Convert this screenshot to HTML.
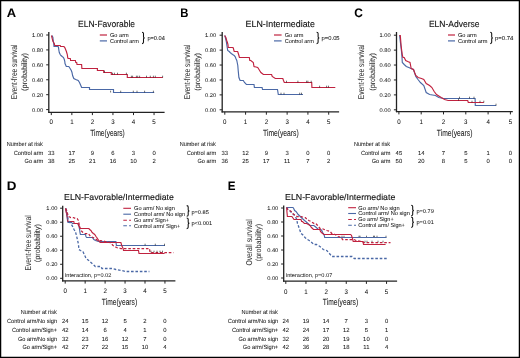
<!DOCTYPE html>
<html><head><meta charset="utf-8"><style>
html,body{margin:0;padding:0;background:#fff;overflow:hidden}
svg{display:block;will-change:transform}
text{font-family:"Liberation Sans",sans-serif;text-rendering:geometricPrecision;stroke:#111;stroke-width:0.04px}
.t{stroke-width:0.12px}
</style></head><body>
<svg width="520" height="358" viewBox="0 0 520 358">
<rect x="0" y="0" width="520" height="358" fill="#fff"/>
<text x="6.68" y="16.90" font-size="12.35" font-weight="bold" fill="#000" textLength="9.36" lengthAdjust="spacingAndGlyphs">A</text>
<text x="78.11" y="27.00" font-size="9.16" fill="#111" textLength="56.87" lengthAdjust="spacingAndGlyphs" class="t">ELN-Favorable</text>
<line x1="48.80" y1="32.00" x2="48.80" y2="112.90" stroke="#222" stroke-width="1.3"/>
<line x1="48.20" y1="112.30" x2="164.60" y2="112.30" stroke="#222" stroke-width="1.3"/>
<line x1="46.20" y1="109.60" x2="48.80" y2="109.60" stroke="#222" stroke-width="1.0"/>
<text transform="translate(43.10,111.72) scale(1.08,1)" font-size="5.30" fill="#222" text-anchor="end">0.00</text>
<line x1="46.20" y1="94.68" x2="48.80" y2="94.68" stroke="#222" stroke-width="1.0"/>
<text transform="translate(43.10,96.80) scale(1.08,1)" font-size="5.30" fill="#222" text-anchor="end">0.20</text>
<line x1="46.20" y1="79.76" x2="48.80" y2="79.76" stroke="#222" stroke-width="1.0"/>
<text transform="translate(43.10,81.88) scale(1.08,1)" font-size="5.30" fill="#222" text-anchor="end">0.40</text>
<line x1="46.20" y1="64.84" x2="48.80" y2="64.84" stroke="#222" stroke-width="1.0"/>
<text transform="translate(43.10,66.96) scale(1.08,1)" font-size="5.30" fill="#222" text-anchor="end">0.60</text>
<line x1="46.20" y1="49.92" x2="48.80" y2="49.92" stroke="#222" stroke-width="1.0"/>
<text transform="translate(43.10,52.04) scale(1.08,1)" font-size="5.30" fill="#222" text-anchor="end">0.80</text>
<line x1="46.20" y1="35.00" x2="48.80" y2="35.00" stroke="#222" stroke-width="1.0"/>
<text transform="translate(43.10,37.12) scale(1.08,1)" font-size="5.30" fill="#222" text-anchor="end">1.00</text>
<line x1="51.30" y1="112.30" x2="51.30" y2="115.10" stroke="#222" stroke-width="1.0"/>
<text transform="translate(51.30,123.80) scale(0.92,1)" font-size="6.70" fill="#111" text-anchor="middle">0</text>
<line x1="71.85" y1="112.30" x2="71.85" y2="115.10" stroke="#222" stroke-width="1.0"/>
<text transform="translate(71.85,123.80) scale(0.92,1)" font-size="6.70" fill="#111" text-anchor="middle">1</text>
<line x1="92.40" y1="112.30" x2="92.40" y2="115.10" stroke="#222" stroke-width="1.0"/>
<text transform="translate(92.40,123.80) scale(0.92,1)" font-size="6.70" fill="#111" text-anchor="middle">2</text>
<line x1="112.95" y1="112.30" x2="112.95" y2="115.10" stroke="#222" stroke-width="1.0"/>
<text transform="translate(112.95,123.80) scale(0.92,1)" font-size="6.70" fill="#111" text-anchor="middle">3</text>
<line x1="133.50" y1="112.30" x2="133.50" y2="115.10" stroke="#222" stroke-width="1.0"/>
<text transform="translate(133.50,123.80) scale(0.92,1)" font-size="6.70" fill="#111" text-anchor="middle">4</text>
<line x1="154.05" y1="112.30" x2="154.05" y2="115.10" stroke="#222" stroke-width="1.0"/>
<text transform="translate(154.05,123.80) scale(0.92,1)" font-size="6.70" fill="#111" text-anchor="middle">5</text>
<text transform="translate(16.65,99.14) rotate(-90)" x="0" y="0" font-size="8.58" fill="#3a3a3a" textLength="54.48" lengthAdjust="spacingAndGlyphs">Event-free survival</text>
<text transform="translate(26.90,90.95) rotate(-90)" x="0" y="0" font-size="7.85" fill="#3a3a3a" textLength="37.90" lengthAdjust="spacingAndGlyphs">(probability)</text>
<text x="90.25" y="135.80" font-size="9.16" fill="#111" textLength="34.55" lengthAdjust="spacingAndGlyphs">Time(years)</text>
<text x="6.74" y="145.60" font-size="5.96" fill="#111" textLength="36.15" lengthAdjust="spacingAndGlyphs">Number at risk</text>
<text x="13.81" y="154.50" font-size="5.96" fill="#111" textLength="29.46" lengthAdjust="spacingAndGlyphs">Control arm</text>
<text x="51.30" y="154.50" font-size="5.90" fill="#111" text-anchor="middle">33</text>
<text x="71.85" y="154.50" font-size="5.90" fill="#111" text-anchor="middle">17</text>
<text x="92.40" y="154.50" font-size="5.90" fill="#111" text-anchor="middle">9</text>
<text x="112.95" y="154.50" font-size="5.90" fill="#111" text-anchor="middle">6</text>
<text x="133.50" y="154.50" font-size="5.90" fill="#111" text-anchor="middle">3</text>
<text x="154.05" y="154.50" font-size="5.90" fill="#111" text-anchor="middle">0</text>
<text x="24.52" y="163.40" font-size="5.96" fill="#111" textLength="18.75" lengthAdjust="spacingAndGlyphs">Go arm</text>
<text x="51.30" y="163.40" font-size="5.90" fill="#111" text-anchor="middle">38</text>
<text x="71.85" y="163.40" font-size="5.90" fill="#111" text-anchor="middle">25</text>
<text x="92.40" y="163.40" font-size="5.90" fill="#111" text-anchor="middle">21</text>
<text x="112.95" y="163.40" font-size="5.90" fill="#111" text-anchor="middle">16</text>
<text x="133.50" y="163.40" font-size="5.90" fill="#111" text-anchor="middle">10</text>
<text x="154.05" y="163.40" font-size="5.90" fill="#111" text-anchor="middle">2</text>
<line x1="99.80" y1="35.00" x2="107.00" y2="35.00" stroke="#c0223f" stroke-width="1.2"/>
<line x1="99.80" y1="40.90" x2="107.00" y2="40.90" stroke="#4a68a6" stroke-width="1.2"/>
<text x="110.02" y="36.70" font-size="5.67" fill="#111" textLength="18.65" lengthAdjust="spacingAndGlyphs">Go arm</text>
<text x="110.02" y="42.60" font-size="5.67" fill="#111" textLength="28.74" lengthAdjust="spacingAndGlyphs">Control arm</text>
<path d="M142.00,32.20 Q143.50,32.20 143.50,33.50 L143.50,37.00 Q143.50,37.90 144.70,37.90 Q143.50,37.90 143.50,38.80 L143.50,42.30 Q143.50,43.60 142.00,43.60" fill="none" stroke="#111" stroke-width="1.05"/>
<text x="147.44" y="39.50" font-size="5.67" fill="#111" textLength="17.43" lengthAdjust="spacingAndGlyphs">p=0.04</text>
<path d="M52.00,35.50 L52.90,37.50 L53.20,40.50 L53.70,43.50 L54.00,46.50 L58.10,46.50 L58.50,47.50 L58.90,50.50 L59.30,52.50 L60.20,54.50 L61.00,55.50 L62.20,56.50 L63.50,57.50 L64.30,59.50 L64.80,61.50 L65.00,63.50 L66.30,66.50 L68.80,66.50 L70.10,68.50 L71.30,70.50 L72.00,72.50 L72.60,75.50 L73.80,78.50 L75.70,79.50 L78.20,80.50 L79.50,82.50 L80.80,85.50 L81.60,87.50 L89.50,87.50 L89.50,89.50 L113.50,89.50 L113.50,92.50 L154.20,92.50" fill="none" stroke="#4a68a6" stroke-width="1.15" stroke-linejoin="miter"/>
<path d="M51.50,35.50 L52.20,38.50 L53.00,41.50 L54.30,43.50 L54.70,45.50 L60.20,45.50 L60.60,46.50 L63.90,46.50 L64.80,47.50 L65.60,49.50 L66.40,51.50 L67.30,54.50 L67.70,57.50 L68.10,58.50 L70.30,58.50 L70.60,60.50 L75.40,60.50 L75.80,62.50 L76.70,62.50 L77.00,64.50 L81.60,64.50 L81.90,68.50 L97.40,68.50 L97.40,70.50 L103.70,70.50 L103.70,72.50 L111.30,72.50 L111.30,74.50 L127.30,74.50 L127.30,77.50 L162.80,77.50" fill="none" stroke="#c0223f" stroke-width="1.15" stroke-linejoin="miter"/>
<line x1="112.50" y1="72.70" x2="112.50" y2="74.50" stroke="#111" stroke-width="0.6"/>
<line x1="114.40" y1="72.70" x2="114.40" y2="74.50" stroke="#111" stroke-width="0.6"/>
<line x1="117.50" y1="72.70" x2="117.50" y2="74.50" stroke="#111" stroke-width="0.6"/>
<line x1="126.40" y1="72.70" x2="126.40" y2="74.50" stroke="#111" stroke-width="0.6"/>
<line x1="131.40" y1="75.70" x2="131.40" y2="77.50" stroke="#111" stroke-width="0.6"/>
<line x1="132.60" y1="75.70" x2="132.60" y2="77.50" stroke="#111" stroke-width="0.6"/>
<line x1="136.40" y1="75.70" x2="136.40" y2="77.50" stroke="#111" stroke-width="0.6"/>
<line x1="137.70" y1="75.70" x2="137.70" y2="77.50" stroke="#111" stroke-width="0.6"/>
<line x1="139.60" y1="75.70" x2="139.60" y2="77.50" stroke="#111" stroke-width="0.6"/>
<line x1="146.50" y1="75.70" x2="146.50" y2="77.50" stroke="#111" stroke-width="0.6"/>
<line x1="150.30" y1="75.70" x2="150.30" y2="77.50" stroke="#111" stroke-width="0.6"/>
<line x1="153.40" y1="75.70" x2="153.40" y2="77.50" stroke="#111" stroke-width="0.6"/>
<line x1="155.30" y1="75.70" x2="155.30" y2="77.50" stroke="#111" stroke-width="0.6"/>
<line x1="162.60" y1="75.70" x2="162.60" y2="77.50" stroke="#111" stroke-width="0.6"/>
<line x1="110.60" y1="90.70" x2="110.60" y2="92.50" stroke="#111" stroke-width="0.6"/>
<line x1="120.70" y1="90.70" x2="120.70" y2="92.50" stroke="#111" stroke-width="0.6"/>
<line x1="133.30" y1="90.70" x2="133.30" y2="92.50" stroke="#111" stroke-width="0.6"/>
<line x1="137.00" y1="90.70" x2="137.00" y2="92.50" stroke="#111" stroke-width="0.6"/>
<line x1="144.60" y1="90.70" x2="144.60" y2="92.50" stroke="#111" stroke-width="0.6"/>
<line x1="153.40" y1="90.70" x2="153.40" y2="92.50" stroke="#111" stroke-width="0.6"/>
<line x1="104.50" y1="70.70" x2="104.50" y2="72.50" stroke="#111" stroke-width="0.6"/>
<text x="180.24" y="17.10" font-size="12.35" font-weight="bold" fill="#000" textLength="8.17" lengthAdjust="spacingAndGlyphs">B</text>
<text x="245.57" y="26.90" font-size="9.16" fill="#111" textLength="69.42" lengthAdjust="spacingAndGlyphs" class="t">ELN-Intermediate</text>
<line x1="222.20" y1="32.00" x2="222.20" y2="112.50" stroke="#222" stroke-width="1.3"/>
<line x1="221.60" y1="111.90" x2="339.10" y2="111.90" stroke="#222" stroke-width="1.3"/>
<line x1="219.60" y1="109.80" x2="222.20" y2="109.80" stroke="#222" stroke-width="1.0"/>
<text transform="translate(216.10,111.92) scale(1.08,1)" font-size="5.30" fill="#222" text-anchor="end">0.00</text>
<line x1="219.60" y1="94.88" x2="222.20" y2="94.88" stroke="#222" stroke-width="1.0"/>
<text transform="translate(216.10,97.00) scale(1.08,1)" font-size="5.30" fill="#222" text-anchor="end">0.20</text>
<line x1="219.60" y1="79.96" x2="222.20" y2="79.96" stroke="#222" stroke-width="1.0"/>
<text transform="translate(216.10,82.08) scale(1.08,1)" font-size="5.30" fill="#222" text-anchor="end">0.40</text>
<line x1="219.60" y1="65.04" x2="222.20" y2="65.04" stroke="#222" stroke-width="1.0"/>
<text transform="translate(216.10,67.16) scale(1.08,1)" font-size="5.30" fill="#222" text-anchor="end">0.60</text>
<line x1="219.60" y1="50.12" x2="222.20" y2="50.12" stroke="#222" stroke-width="1.0"/>
<text transform="translate(216.10,52.24) scale(1.08,1)" font-size="5.30" fill="#222" text-anchor="end">0.80</text>
<line x1="219.60" y1="35.20" x2="222.20" y2="35.20" stroke="#222" stroke-width="1.0"/>
<text transform="translate(216.10,37.32) scale(1.08,1)" font-size="5.30" fill="#222" text-anchor="end">1.00</text>
<line x1="224.80" y1="111.90" x2="224.80" y2="114.70" stroke="#222" stroke-width="1.0"/>
<text transform="translate(224.80,123.60) scale(0.92,1)" font-size="6.70" fill="#111" text-anchor="middle">0</text>
<line x1="245.58" y1="111.90" x2="245.58" y2="114.70" stroke="#222" stroke-width="1.0"/>
<text transform="translate(245.58,123.60) scale(0.92,1)" font-size="6.70" fill="#111" text-anchor="middle">1</text>
<line x1="266.36" y1="111.90" x2="266.36" y2="114.70" stroke="#222" stroke-width="1.0"/>
<text transform="translate(266.36,123.60) scale(0.92,1)" font-size="6.70" fill="#111" text-anchor="middle">2</text>
<line x1="287.14" y1="111.90" x2="287.14" y2="114.70" stroke="#222" stroke-width="1.0"/>
<text transform="translate(287.14,123.60) scale(0.92,1)" font-size="6.70" fill="#111" text-anchor="middle">3</text>
<line x1="307.92" y1="111.90" x2="307.92" y2="114.70" stroke="#222" stroke-width="1.0"/>
<text transform="translate(307.92,123.60) scale(0.92,1)" font-size="6.70" fill="#111" text-anchor="middle">4</text>
<line x1="328.70" y1="111.90" x2="328.70" y2="114.70" stroke="#222" stroke-width="1.0"/>
<text transform="translate(328.70,123.60) scale(0.92,1)" font-size="6.70" fill="#111" text-anchor="middle">5</text>
<text transform="translate(189.80,99.24) rotate(-90)" x="0" y="0" font-size="8.58" fill="#3a3a3a" textLength="54.58" lengthAdjust="spacingAndGlyphs">Event-free survival</text>
<text transform="translate(200.00,90.75) rotate(-90)" x="0" y="0" font-size="7.85" fill="#3a3a3a" textLength="37.69" lengthAdjust="spacingAndGlyphs">(probability)</text>
<text x="263.05" y="135.80" font-size="9.16" fill="#111" textLength="35.66" lengthAdjust="spacingAndGlyphs">Time(years)</text>
<text x="179.64" y="145.60" font-size="5.96" fill="#111" textLength="36.15" lengthAdjust="spacingAndGlyphs">Number at risk</text>
<text x="186.71" y="154.50" font-size="5.96" fill="#111" textLength="29.46" lengthAdjust="spacingAndGlyphs">Control arm</text>
<text x="224.80" y="154.50" font-size="5.90" fill="#111" text-anchor="middle">33</text>
<text x="245.58" y="154.50" font-size="5.90" fill="#111" text-anchor="middle">12</text>
<text x="266.36" y="154.50" font-size="5.90" fill="#111" text-anchor="middle">9</text>
<text x="287.14" y="154.50" font-size="5.90" fill="#111" text-anchor="middle">3</text>
<text x="307.92" y="154.50" font-size="5.90" fill="#111" text-anchor="middle">0</text>
<text x="328.70" y="154.50" font-size="5.90" fill="#111" text-anchor="middle">0</text>
<text x="197.42" y="163.40" font-size="5.96" fill="#111" textLength="18.75" lengthAdjust="spacingAndGlyphs">Go arm</text>
<text x="224.80" y="163.40" font-size="5.90" fill="#111" text-anchor="middle">36</text>
<text x="245.58" y="163.40" font-size="5.90" fill="#111" text-anchor="middle">25</text>
<text x="266.36" y="163.40" font-size="5.90" fill="#111" text-anchor="middle">17</text>
<text x="287.14" y="163.40" font-size="5.90" fill="#111" text-anchor="middle">11</text>
<text x="307.92" y="163.40" font-size="5.90" fill="#111" text-anchor="middle">7</text>
<text x="328.70" y="163.40" font-size="5.90" fill="#111" text-anchor="middle">2</text>
<line x1="274.00" y1="35.00" x2="281.60" y2="35.00" stroke="#c0223f" stroke-width="1.2"/>
<line x1="274.00" y1="40.90" x2="281.60" y2="40.90" stroke="#4a68a6" stroke-width="1.2"/>
<text x="284.72" y="36.70" font-size="5.67" fill="#111" textLength="18.65" lengthAdjust="spacingAndGlyphs">Go arm</text>
<text x="284.72" y="42.60" font-size="5.67" fill="#111" textLength="29.05" lengthAdjust="spacingAndGlyphs">Control arm</text>
<path d="M316.60,32.20 Q318.10,32.20 318.10,33.50 L318.10,37.00 Q318.10,37.90 319.30,37.90 Q318.10,37.90 318.10,38.80 L318.10,42.30 Q318.10,43.60 316.60,43.60" fill="none" stroke="#111" stroke-width="1.05"/>
<text x="321.62" y="39.60" font-size="5.67" fill="#111" textLength="18.02" lengthAdjust="spacingAndGlyphs">p=0.05</text>
<path d="M224.80,35.50 L225.60,38.50 L226.30,41.50 L226.90,45.50 L227.40,48.50 L227.70,50.50 L229.20,51.50 L230.10,52.50 L231.30,53.50 L232.60,54.50 L234.20,55.50 L235.10,56.50 L235.90,58.50 L236.80,60.50 L237.20,62.50 L237.80,65.50 L238.20,70.50 L238.90,77.50 L240.10,80.50 L243.30,80.50 L244.50,82.50 L246.40,84.50 L254.00,84.50 L254.40,87.50 L262.10,87.50 L262.50,89.50 L277.50,89.50 L278.30,94.50 L303.00,94.50" fill="none" stroke="#4a68a6" stroke-width="1.15" stroke-linejoin="miter"/>
<path d="M224.60,35.50 L225.90,37.50 L226.70,40.50 L227.40,42.50 L228.00,44.50 L228.20,47.50 L233.00,47.50 L233.40,48.50 L234.20,51.50 L237.60,51.50 L238.00,52.50 L238.90,55.50 L239.40,57.50 L249.30,57.50 L249.80,60.50 L250.80,60.50 L253.30,62.50 L254.00,66.50 L257.70,67.50 L259.00,69.50 L260.90,72.50 L263.40,74.50 L271.60,74.50 L272.20,76.50 L275.30,78.50 L282.80,78.50 L283.50,80.50 L284.30,82.50 L311.70,82.50 L311.90,87.50 L335.30,87.50" fill="none" stroke="#c0223f" stroke-width="1.15" stroke-linejoin="miter"/>
<line x1="286.50" y1="80.70" x2="286.50" y2="82.50" stroke="#111" stroke-width="0.6"/>
<line x1="297.90" y1="80.70" x2="297.90" y2="82.50" stroke="#111" stroke-width="0.6"/>
<line x1="306.60" y1="80.70" x2="306.60" y2="82.50" stroke="#111" stroke-width="0.6"/>
<line x1="307.90" y1="80.70" x2="307.90" y2="82.50" stroke="#111" stroke-width="0.6"/>
<line x1="311.20" y1="80.70" x2="311.20" y2="82.50" stroke="#111" stroke-width="0.6"/>
<line x1="319.60" y1="85.70" x2="319.60" y2="87.50" stroke="#111" stroke-width="0.6"/>
<line x1="326.60" y1="85.70" x2="326.60" y2="87.50" stroke="#111" stroke-width="0.6"/>
<line x1="328.50" y1="85.70" x2="328.50" y2="87.50" stroke="#111" stroke-width="0.6"/>
<line x1="281.00" y1="92.70" x2="281.00" y2="94.50" stroke="#111" stroke-width="0.6"/>
<line x1="284.00" y1="92.70" x2="284.00" y2="94.50" stroke="#111" stroke-width="0.6"/>
<line x1="299.70" y1="92.70" x2="299.70" y2="94.50" stroke="#111" stroke-width="0.6"/>
<line x1="301.50" y1="92.70" x2="301.50" y2="94.50" stroke="#111" stroke-width="0.6"/>
<text x="354.31" y="17.00" font-size="12.35" font-weight="bold" fill="#000" textLength="8.62" lengthAdjust="spacingAndGlyphs">C</text>
<text x="428.90" y="26.90" font-size="9.16" fill="#111" textLength="50.68" lengthAdjust="spacingAndGlyphs" class="t">ELN-Adverse</text>
<line x1="396.50" y1="32.00" x2="396.50" y2="112.20" stroke="#222" stroke-width="1.3"/>
<line x1="395.90" y1="111.60" x2="512.80" y2="111.60" stroke="#222" stroke-width="1.3"/>
<line x1="393.90" y1="109.80" x2="396.50" y2="109.80" stroke="#222" stroke-width="1.0"/>
<text transform="translate(390.60,111.92) scale(1.08,1)" font-size="5.30" fill="#222" text-anchor="end">0.00</text>
<line x1="393.90" y1="94.88" x2="396.50" y2="94.88" stroke="#222" stroke-width="1.0"/>
<text transform="translate(390.60,97.00) scale(1.08,1)" font-size="5.30" fill="#222" text-anchor="end">0.20</text>
<line x1="393.90" y1="79.96" x2="396.50" y2="79.96" stroke="#222" stroke-width="1.0"/>
<text transform="translate(390.60,82.08) scale(1.08,1)" font-size="5.30" fill="#222" text-anchor="end">0.40</text>
<line x1="393.90" y1="65.04" x2="396.50" y2="65.04" stroke="#222" stroke-width="1.0"/>
<text transform="translate(390.60,67.16) scale(1.08,1)" font-size="5.30" fill="#222" text-anchor="end">0.60</text>
<line x1="393.90" y1="50.12" x2="396.50" y2="50.12" stroke="#222" stroke-width="1.0"/>
<text transform="translate(390.60,52.24) scale(1.08,1)" font-size="5.30" fill="#222" text-anchor="end">0.80</text>
<line x1="393.90" y1="35.20" x2="396.50" y2="35.20" stroke="#222" stroke-width="1.0"/>
<text transform="translate(390.60,37.32) scale(1.08,1)" font-size="5.30" fill="#222" text-anchor="end">1.00</text>
<line x1="398.90" y1="111.60" x2="398.90" y2="114.40" stroke="#222" stroke-width="1.0"/>
<text transform="translate(398.90,123.60) scale(0.92,1)" font-size="6.70" fill="#111" text-anchor="middle">0</text>
<line x1="421.20" y1="111.60" x2="421.20" y2="114.40" stroke="#222" stroke-width="1.0"/>
<text transform="translate(421.20,123.60) scale(0.92,1)" font-size="6.70" fill="#111" text-anchor="middle">1</text>
<line x1="443.50" y1="111.60" x2="443.50" y2="114.40" stroke="#222" stroke-width="1.0"/>
<text transform="translate(443.50,123.60) scale(0.92,1)" font-size="6.70" fill="#111" text-anchor="middle">2</text>
<line x1="465.80" y1="111.60" x2="465.80" y2="114.40" stroke="#222" stroke-width="1.0"/>
<text transform="translate(465.80,123.60) scale(0.92,1)" font-size="6.70" fill="#111" text-anchor="middle">3</text>
<line x1="488.10" y1="111.60" x2="488.10" y2="114.40" stroke="#222" stroke-width="1.0"/>
<text transform="translate(488.10,123.60) scale(0.92,1)" font-size="6.70" fill="#111" text-anchor="middle">4</text>
<line x1="510.40" y1="111.60" x2="510.40" y2="114.40" stroke="#222" stroke-width="1.0"/>
<text transform="translate(510.40,123.60) scale(0.92,1)" font-size="6.70" fill="#111" text-anchor="middle">5</text>
<text transform="translate(364.35,99.24) rotate(-90)" x="0" y="0" font-size="8.58" fill="#3a3a3a" textLength="54.58" lengthAdjust="spacingAndGlyphs">Event-free survival</text>
<text transform="translate(374.60,90.75) rotate(-90)" x="0" y="0" font-size="7.85" fill="#3a3a3a" textLength="37.69" lengthAdjust="spacingAndGlyphs">(probability)</text>
<text x="436.85" y="135.80" font-size="9.16" fill="#111" textLength="35.56" lengthAdjust="spacingAndGlyphs">Time(years)</text>
<text x="353.94" y="145.60" font-size="5.96" fill="#111" textLength="36.15" lengthAdjust="spacingAndGlyphs">Number at risk</text>
<text x="361.01" y="154.50" font-size="5.96" fill="#111" textLength="29.46" lengthAdjust="spacingAndGlyphs">Control arm</text>
<text x="398.90" y="154.50" font-size="5.90" fill="#111" text-anchor="middle">45</text>
<text x="421.20" y="154.50" font-size="5.90" fill="#111" text-anchor="middle">14</text>
<text x="443.50" y="154.50" font-size="5.90" fill="#111" text-anchor="middle">7</text>
<text x="465.80" y="154.50" font-size="5.90" fill="#111" text-anchor="middle">5</text>
<text x="488.10" y="154.50" font-size="5.90" fill="#111" text-anchor="middle">1</text>
<text x="510.40" y="154.50" font-size="5.90" fill="#111" text-anchor="middle">0</text>
<text x="371.72" y="163.40" font-size="5.96" fill="#111" textLength="18.75" lengthAdjust="spacingAndGlyphs">Go arm</text>
<text x="398.90" y="163.40" font-size="5.90" fill="#111" text-anchor="middle">50</text>
<text x="421.20" y="163.40" font-size="5.90" fill="#111" text-anchor="middle">20</text>
<text x="443.50" y="163.40" font-size="5.90" fill="#111" text-anchor="middle">8</text>
<text x="465.80" y="163.40" font-size="5.90" fill="#111" text-anchor="middle">5</text>
<text x="488.10" y="163.40" font-size="5.90" fill="#111" text-anchor="middle">0</text>
<text x="510.40" y="163.40" font-size="5.90" fill="#111" text-anchor="middle">0</text>
<line x1="448.00" y1="35.00" x2="455.00" y2="35.00" stroke="#c0223f" stroke-width="1.2"/>
<line x1="448.00" y1="40.90" x2="455.00" y2="40.90" stroke="#4a68a6" stroke-width="1.2"/>
<text x="457.92" y="36.80" font-size="5.67" fill="#111" textLength="18.75" lengthAdjust="spacingAndGlyphs">Go arm</text>
<text x="457.91" y="42.70" font-size="5.67" fill="#111" textLength="29.46" lengthAdjust="spacingAndGlyphs">Control arm</text>
<path d="M490.20,32.20 Q491.70,32.20 491.70,33.50 L491.70,37.00 Q491.70,37.90 492.90,37.90 Q491.70,37.90 491.70,38.80 L491.70,42.30 Q491.70,43.60 490.20,43.60" fill="none" stroke="#111" stroke-width="1.05"/>
<text x="495.01" y="39.50" font-size="5.67" fill="#111" textLength="18.46" lengthAdjust="spacingAndGlyphs">p=0.74</text>
<path d="M399.60,35.50 L400.90,46.50 L401.50,51.50 L402.00,57.50 L402.30,62.50 L404.20,64.50 L406.30,66.50 L408.80,67.50 L411.00,68.50 L413.50,69.50 L415.80,76.50 L418.00,79.50 L420.40,82.50 L423.80,85.50 L426.20,92.50 L429.60,94.50 L435.40,95.50 L438.80,97.50 L443.50,98.50 L475.10,98.50 L475.30,105.50 L496.20,105.50" fill="none" stroke="#4a68a6" stroke-width="1.15" stroke-linejoin="miter"/>
<path d="M399.20,35.50 L400.30,35.50 L400.70,40.50 L401.10,45.50 L401.70,50.50 L402.40,55.50 L403.00,57.50 L404.20,57.50 L405.70,60.50 L407.70,61.50 L410.00,62.50 L410.60,65.50 L411.20,68.50 L413.50,69.50 L414.60,72.50 L415.80,75.50 L418.10,77.50 L421.50,78.50 L423.80,79.50 L426.20,83.50 L429.60,85.50 L431.90,87.50 L434.20,91.50 L436.50,94.50 L441.20,97.50 L444.60,99.50 L448.10,100.50 L467.70,100.50 L468.30,102.50 L483.80,102.50" fill="none" stroke="#c0223f" stroke-width="1.15" stroke-linejoin="miter"/>
<line x1="459.50" y1="96.70" x2="459.50" y2="98.50" stroke="#111" stroke-width="0.6"/>
<line x1="469.50" y1="96.70" x2="469.50" y2="98.50" stroke="#111" stroke-width="0.6"/>
<line x1="474.00" y1="96.70" x2="474.00" y2="98.50" stroke="#111" stroke-width="0.6"/>
<line x1="472.00" y1="100.70" x2="472.00" y2="102.50" stroke="#111" stroke-width="0.6"/>
<line x1="480.00" y1="100.70" x2="480.00" y2="102.50" stroke="#111" stroke-width="0.6"/>
<line x1="483.80" y1="100.70" x2="483.80" y2="102.50" stroke="#111" stroke-width="0.6"/>
<line x1="496.00" y1="103.70" x2="496.00" y2="105.50" stroke="#111" stroke-width="0.6"/>
<line x1="458.50" y1="98.70" x2="458.50" y2="100.50" stroke="#111" stroke-width="0.6"/>
<text x="6.81" y="189.70" font-size="12.50" font-weight="bold" fill="#000" textLength="9.66" lengthAdjust="spacingAndGlyphs">D</text>
<text x="64.08" y="199.60" font-size="8.58" fill="#111" textLength="109.81" lengthAdjust="spacingAndGlyphs" class="t">ELN-Favorable/Intermediate</text>
<line x1="62.70" y1="205.70" x2="62.70" y2="281.40" stroke="#222" stroke-width="1.3"/>
<line x1="62.10" y1="280.80" x2="175.40" y2="280.80" stroke="#222" stroke-width="1.3"/>
<line x1="60.10" y1="278.30" x2="62.70" y2="278.30" stroke="#222" stroke-width="1.0"/>
<text transform="translate(57.50,280.42) scale(1.08,1)" font-size="5.30" fill="#222" text-anchor="end">0.00</text>
<line x1="60.10" y1="264.28" x2="62.70" y2="264.28" stroke="#222" stroke-width="1.0"/>
<text transform="translate(57.50,266.40) scale(1.08,1)" font-size="5.30" fill="#222" text-anchor="end">0.20</text>
<line x1="60.10" y1="250.26" x2="62.70" y2="250.26" stroke="#222" stroke-width="1.0"/>
<text transform="translate(57.50,252.38) scale(1.08,1)" font-size="5.30" fill="#222" text-anchor="end">0.40</text>
<line x1="60.10" y1="236.24" x2="62.70" y2="236.24" stroke="#222" stroke-width="1.0"/>
<text transform="translate(57.50,238.36) scale(1.08,1)" font-size="5.30" fill="#222" text-anchor="end">0.60</text>
<line x1="60.10" y1="222.22" x2="62.70" y2="222.22" stroke="#222" stroke-width="1.0"/>
<text transform="translate(57.50,224.34) scale(1.08,1)" font-size="5.30" fill="#222" text-anchor="end">0.80</text>
<line x1="60.10" y1="208.20" x2="62.70" y2="208.20" stroke="#222" stroke-width="1.0"/>
<text transform="translate(57.50,210.32) scale(1.08,1)" font-size="5.30" fill="#222" text-anchor="end">1.00</text>
<line x1="65.20" y1="280.80" x2="65.20" y2="283.60" stroke="#222" stroke-width="1.0"/>
<text transform="translate(65.20,293.00) scale(0.92,1)" font-size="6.70" fill="#111" text-anchor="middle">0</text>
<line x1="85.15" y1="280.80" x2="85.15" y2="283.60" stroke="#222" stroke-width="1.0"/>
<text transform="translate(85.15,293.00) scale(0.92,1)" font-size="6.70" fill="#111" text-anchor="middle">1</text>
<line x1="105.10" y1="280.80" x2="105.10" y2="283.60" stroke="#222" stroke-width="1.0"/>
<text transform="translate(105.10,293.00) scale(0.92,1)" font-size="6.70" fill="#111" text-anchor="middle">2</text>
<line x1="125.05" y1="280.80" x2="125.05" y2="283.60" stroke="#222" stroke-width="1.0"/>
<text transform="translate(125.05,293.00) scale(0.92,1)" font-size="6.70" fill="#111" text-anchor="middle">3</text>
<line x1="145.00" y1="280.80" x2="145.00" y2="283.60" stroke="#222" stroke-width="1.0"/>
<text transform="translate(145.00,293.00) scale(0.92,1)" font-size="6.70" fill="#111" text-anchor="middle">4</text>
<line x1="164.95" y1="280.80" x2="164.95" y2="283.60" stroke="#222" stroke-width="1.0"/>
<text transform="translate(164.95,293.00) scale(0.92,1)" font-size="6.70" fill="#111" text-anchor="middle">5</text>
<text transform="translate(30.65,270.55) rotate(-90)" x="0" y="0" font-size="8.58" fill="#3a3a3a" textLength="55.19" lengthAdjust="spacingAndGlyphs">Event-free survival</text>
<text transform="translate(40.45,262.25) rotate(-90)" x="0" y="0" font-size="7.85" fill="#3a3a3a" textLength="38.21" lengthAdjust="spacingAndGlyphs">(probability)</text>
<text x="101.85" y="304.60" font-size="9.16" fill="#111" textLength="35.26" lengthAdjust="spacingAndGlyphs">Time(years)</text>
<text x="64.78" y="277.10" font-size="5.52" fill="#2a2a2a" textLength="46.50" lengthAdjust="spacingAndGlyphs">Interaction, p=0.02</text>
<text x="20.65" y="314.30" font-size="5.96" fill="#111" textLength="36.05" lengthAdjust="spacingAndGlyphs">Number at risk</text>
<text x="7.01" y="323.20" font-size="5.96" fill="#111" textLength="50.05" lengthAdjust="spacingAndGlyphs">Control arm/No sign</text>
<text x="65.20" y="323.20" font-size="5.90" fill="#111" text-anchor="middle">24</text>
<text x="85.15" y="323.20" font-size="5.90" fill="#111" text-anchor="middle">15</text>
<text x="105.10" y="323.20" font-size="5.90" fill="#111" text-anchor="middle">12</text>
<text x="125.05" y="323.20" font-size="5.90" fill="#111" text-anchor="middle">5</text>
<text x="145.00" y="323.20" font-size="5.90" fill="#111" text-anchor="middle">2</text>
<text x="164.95" y="323.20" font-size="5.90" fill="#111" text-anchor="middle">0</text>
<text x="11.92" y="331.90" font-size="5.96" fill="#111" textLength="45.06" lengthAdjust="spacingAndGlyphs">Control arm/Sign+</text>
<text x="65.20" y="331.90" font-size="5.90" fill="#111" text-anchor="middle">42</text>
<text x="85.15" y="331.90" font-size="5.90" fill="#111" text-anchor="middle">14</text>
<text x="105.10" y="331.90" font-size="5.90" fill="#111" text-anchor="middle">6</text>
<text x="125.05" y="331.90" font-size="5.90" fill="#111" text-anchor="middle">4</text>
<text x="145.00" y="331.90" font-size="5.90" fill="#111" text-anchor="middle">1</text>
<text x="164.95" y="331.90" font-size="5.90" fill="#111" text-anchor="middle">0</text>
<text x="17.92" y="340.60" font-size="5.96" fill="#111" textLength="39.14" lengthAdjust="spacingAndGlyphs">Go arm/No sign</text>
<text x="65.20" y="340.60" font-size="5.90" fill="#111" text-anchor="middle">32</text>
<text x="85.15" y="340.60" font-size="5.90" fill="#111" text-anchor="middle">23</text>
<text x="105.10" y="340.60" font-size="5.90" fill="#111" text-anchor="middle">16</text>
<text x="125.05" y="340.60" font-size="5.90" fill="#111" text-anchor="middle">12</text>
<text x="145.00" y="340.60" font-size="5.90" fill="#111" text-anchor="middle">7</text>
<text x="164.95" y="340.60" font-size="5.90" fill="#111" text-anchor="middle">0</text>
<text x="22.42" y="349.40" font-size="5.96" fill="#111" textLength="34.56" lengthAdjust="spacingAndGlyphs">Go arm/Sign+</text>
<text x="65.20" y="349.40" font-size="5.90" fill="#111" text-anchor="middle">42</text>
<text x="85.15" y="349.40" font-size="5.90" fill="#111" text-anchor="middle">27</text>
<text x="105.10" y="349.40" font-size="5.90" fill="#111" text-anchor="middle">22</text>
<text x="125.05" y="349.40" font-size="5.90" fill="#111" text-anchor="middle">15</text>
<text x="145.00" y="349.40" font-size="5.90" fill="#111" text-anchor="middle">10</text>
<text x="164.95" y="349.40" font-size="5.90" fill="#111" text-anchor="middle">4</text>
<line x1="123.30" y1="208.30" x2="131.00" y2="208.30" stroke="#c0223f" stroke-width="1.1"/>
<line x1="123.30" y1="214.20" x2="131.00" y2="214.20" stroke="#4a68a6" stroke-width="1.1"/>
<line x1="123.30" y1="220.20" x2="131.00" y2="220.20" stroke="#c0223f" stroke-width="1.1" stroke-dasharray="3.6,2.2"/>
<line x1="123.30" y1="225.80" x2="131.00" y2="225.80" stroke="#4a68a6" stroke-width="1.1" stroke-dasharray="3.6,2.2"/>
<text x="134.02" y="210.20" font-size="5.67" fill="#111" textLength="40.85" lengthAdjust="spacingAndGlyphs">Go arm/ No sign</text>
<text x="134.02" y="216.10" font-size="5.67" fill="#111" textLength="51.04" lengthAdjust="spacingAndGlyphs">Control arm/ No sign</text>
<text x="134.03" y="222.10" font-size="5.67" fill="#111" textLength="34.84" lengthAdjust="spacingAndGlyphs">Go arm/ Sign+</text>
<text x="134.02" y="227.70" font-size="5.67" fill="#111" textLength="46.15" lengthAdjust="spacingAndGlyphs">Control arm/ Sign+</text>
<path d="M186.70,205.60 Q188.20,205.60 188.20,206.90 L188.20,210.05 Q188.20,210.95 189.40,210.95 Q188.20,210.95 188.20,211.85 L188.20,215.00 Q188.20,216.30 186.70,216.30" fill="none" stroke="#111" stroke-width="1.05"/>
<path d="M186.70,217.90 Q188.20,217.90 188.20,219.20 L188.20,222.35 Q188.20,223.25 189.40,223.25 Q188.20,223.25 188.20,224.15 L188.20,227.30 Q188.20,228.60 186.70,228.60" fill="none" stroke="#111" stroke-width="1.05"/>
<text x="191.44" y="213.50" font-size="5.52" fill="#111" textLength="17.40" lengthAdjust="spacingAndGlyphs">p=0.85</text>
<text x="191.43" y="224.90" font-size="5.52" fill="#111" textLength="20.75" lengthAdjust="spacingAndGlyphs">p&lt;0.001</text>
<path d="M65.90,208.50 L66.60,213.50 L67.20,217.50 L67.50,220.50 L68.00,222.50 L71.70,222.50 L72.40,223.50 L77.90,223.50 L78.80,225.50 L79.60,229.50 L80.00,232.50 L80.40,234.50 L85.50,234.50 L85.90,236.50 L86.70,237.50 L92.60,237.50 L93.00,238.50 L93.90,239.50 L95.50,240.50 L98.50,241.50 L115.90,241.50 L116.40,245.50 L165.00,245.50" fill="none" stroke="#4a68a6" stroke-width="1.15" stroke-linejoin="miter"/>
<path d="M65.40,208.50 L66.30,212.50 L67.00,215.50 L67.60,219.50 L68.00,221.50 L73.80,221.50 L74.20,223.50 L78.00,223.50 L78.50,225.50 L78.90,225.50 L79.60,227.50 L80.40,228.50 L88.80,228.50 L89.70,229.50 L90.90,230.50 L92.20,232.50 L93.40,233.50 L94.70,234.50 L96.00,236.50 L96.80,237.50 L98.10,239.50 L99.30,241.50 L100.10,242.50 L120.90,242.50 L121.70,245.50 L123.10,248.50 L123.50,250.50 L138.50,250.50 L139.00,253.50 L164.60,253.50" fill="none" stroke="#c0223f" stroke-width="1.15" stroke-linejoin="miter"/>
<path d="M65.90,208.50 L67.10,212.50 L67.70,216.50 L68.20,220.50 L70.00,222.50 L71.50,224.50 L72.60,226.50 L74.00,229.50 L75.40,231.50 L76.70,236.50 L77.60,240.50 L78.50,244.50 L78.90,249.50 L80.50,250.50 L82.90,251.50 L84.30,254.50 L86.10,258.50 L88.80,260.50 L92.10,263.50 L94.30,265.50 L95.30,266.50 L101.00,266.50 L101.90,268.50 L111.70,268.50 L115.90,269.50 L121.50,270.50 L125.60,271.50 L149.40,271.50" fill="none" stroke="#4a68a6" stroke-width="1.3" stroke-linejoin="miter" stroke-dasharray="2.6,1.8"/>
<path d="M65.40,208.50 L66.30,209.50 L67.50,213.50 L68.50,216.50 L70.90,217.50 L73.40,217.50 L75.50,218.50 L77.10,218.50 L78.40,220.50 L79.20,224.50 L80.00,227.50 L80.90,230.50 L83.00,232.50 L85.00,233.50 L88.40,233.50 L90.50,236.50 L93.00,237.50 L95.10,238.50 L97.60,240.50 L100.00,240.50 L105.40,241.50 L110.00,242.50 L113.10,245.50 L116.50,247.50 L120.80,248.50 L149.50,248.50 L150.00,252.50 L173.50,252.50" fill="none" stroke="#c0223f" stroke-width="1.25" stroke-linejoin="miter" stroke-dasharray="2.6,1.8"/>
<line x1="145.10" y1="243.70" x2="145.10" y2="245.50" stroke="#111" stroke-width="0.6"/>
<line x1="155.30" y1="243.70" x2="155.30" y2="245.50" stroke="#111" stroke-width="0.6"/>
<line x1="164.50" y1="243.70" x2="164.50" y2="245.50" stroke="#111" stroke-width="0.6"/>
<line x1="151.00" y1="250.70" x2="151.00" y2="252.50" stroke="#111" stroke-width="0.6"/>
<line x1="154.00" y1="250.70" x2="154.00" y2="252.50" stroke="#111" stroke-width="0.6"/>
<line x1="157.00" y1="250.70" x2="157.00" y2="252.50" stroke="#111" stroke-width="0.6"/>
<line x1="160.00" y1="250.70" x2="160.00" y2="252.50" stroke="#111" stroke-width="0.6"/>
<line x1="162.50" y1="250.70" x2="162.50" y2="252.50" stroke="#111" stroke-width="0.6"/>
<line x1="342.00" y1="235.70" x2="342.00" y2="237.50" stroke="#111" stroke-width="0.6"/>
<line x1="344.00" y1="235.70" x2="344.00" y2="237.50" stroke="#111" stroke-width="0.6"/>
<line x1="359.00" y1="235.70" x2="359.00" y2="237.50" stroke="#111" stroke-width="0.6"/>
<line x1="360.00" y1="235.70" x2="360.00" y2="237.50" stroke="#111" stroke-width="0.6"/>
<line x1="366.50" y1="235.70" x2="366.50" y2="237.50" stroke="#111" stroke-width="0.6"/>
<line x1="373.50" y1="235.70" x2="373.50" y2="237.50" stroke="#111" stroke-width="0.6"/>
<line x1="374.50" y1="235.70" x2="374.50" y2="237.50" stroke="#111" stroke-width="0.6"/>
<line x1="377.00" y1="235.70" x2="377.00" y2="237.50" stroke="#111" stroke-width="0.6"/>
<line x1="386.00" y1="235.70" x2="386.00" y2="237.50" stroke="#111" stroke-width="0.6"/>
<line x1="365.00" y1="240.70" x2="365.00" y2="242.50" stroke="#111" stroke-width="0.6"/>
<line x1="367.00" y1="240.70" x2="367.00" y2="242.50" stroke="#111" stroke-width="0.6"/>
<line x1="372.00" y1="240.70" x2="372.00" y2="242.50" stroke="#111" stroke-width="0.6"/>
<line x1="378.00" y1="240.70" x2="378.00" y2="242.50" stroke="#111" stroke-width="0.6"/>
<line x1="383.00" y1="240.70" x2="383.00" y2="242.50" stroke="#111" stroke-width="0.6"/>
<text x="227.72" y="189.70" font-size="12.35" font-weight="bold" fill="#000" textLength="7.73" lengthAdjust="spacingAndGlyphs">E</text>
<text x="285.08" y="199.90" font-size="8.58" fill="#111" textLength="110.21" lengthAdjust="spacingAndGlyphs" class="t">ELN-Favorable/Intermediate</text>
<line x1="283.70" y1="205.50" x2="283.70" y2="281.70" stroke="#222" stroke-width="1.3"/>
<line x1="283.10" y1="281.10" x2="397.10" y2="281.10" stroke="#222" stroke-width="1.3"/>
<line x1="281.10" y1="278.00" x2="283.70" y2="278.00" stroke="#222" stroke-width="1.0"/>
<text transform="translate(278.30,280.12) scale(1.08,1)" font-size="5.30" fill="#222" text-anchor="end">0.00</text>
<line x1="281.10" y1="264.00" x2="283.70" y2="264.00" stroke="#222" stroke-width="1.0"/>
<text transform="translate(278.30,266.12) scale(1.08,1)" font-size="5.30" fill="#222" text-anchor="end">0.20</text>
<line x1="281.10" y1="250.00" x2="283.70" y2="250.00" stroke="#222" stroke-width="1.0"/>
<text transform="translate(278.30,252.12) scale(1.08,1)" font-size="5.30" fill="#222" text-anchor="end">0.40</text>
<line x1="281.10" y1="236.00" x2="283.70" y2="236.00" stroke="#222" stroke-width="1.0"/>
<text transform="translate(278.30,238.12) scale(1.08,1)" font-size="5.30" fill="#222" text-anchor="end">0.60</text>
<line x1="281.10" y1="222.00" x2="283.70" y2="222.00" stroke="#222" stroke-width="1.0"/>
<text transform="translate(278.30,224.12) scale(1.08,1)" font-size="5.30" fill="#222" text-anchor="end">0.80</text>
<line x1="281.10" y1="208.00" x2="283.70" y2="208.00" stroke="#222" stroke-width="1.0"/>
<text transform="translate(278.30,210.12) scale(1.08,1)" font-size="5.30" fill="#222" text-anchor="end">1.00</text>
<line x1="285.80" y1="281.10" x2="285.80" y2="283.90" stroke="#222" stroke-width="1.0"/>
<text transform="translate(285.80,293.50) scale(0.92,1)" font-size="6.70" fill="#111" text-anchor="middle">0</text>
<line x1="305.95" y1="281.10" x2="305.95" y2="283.90" stroke="#222" stroke-width="1.0"/>
<text transform="translate(305.95,293.50) scale(0.92,1)" font-size="6.70" fill="#111" text-anchor="middle">1</text>
<line x1="326.10" y1="281.10" x2="326.10" y2="283.90" stroke="#222" stroke-width="1.0"/>
<text transform="translate(326.10,293.50) scale(0.92,1)" font-size="6.70" fill="#111" text-anchor="middle">2</text>
<line x1="346.25" y1="281.10" x2="346.25" y2="283.90" stroke="#222" stroke-width="1.0"/>
<text transform="translate(346.25,293.50) scale(0.92,1)" font-size="6.70" fill="#111" text-anchor="middle">3</text>
<line x1="366.40" y1="281.10" x2="366.40" y2="283.90" stroke="#222" stroke-width="1.0"/>
<text transform="translate(366.40,293.50) scale(0.92,1)" font-size="6.70" fill="#111" text-anchor="middle">4</text>
<line x1="386.55" y1="281.10" x2="386.55" y2="283.90" stroke="#222" stroke-width="1.0"/>
<text transform="translate(386.55,293.50) scale(0.92,1)" font-size="6.70" fill="#111" text-anchor="middle">5</text>
<text transform="translate(251.50,265.62) rotate(-90)" x="0" y="0" font-size="8.58" fill="#3a3a3a" textLength="46.27" lengthAdjust="spacingAndGlyphs">Overall survival</text>
<text transform="translate(261.40,261.24) rotate(-90)" x="0" y="0" font-size="7.85" fill="#3a3a3a" textLength="37.29" lengthAdjust="spacingAndGlyphs">(probability)</text>
<text x="322.85" y="305.30" font-size="9.16" fill="#111" textLength="35.26" lengthAdjust="spacingAndGlyphs">Time(years)</text>
<text x="285.58" y="277.40" font-size="5.52" fill="#2a2a2a" textLength="46.70" lengthAdjust="spacingAndGlyphs">Interaction, p=0.07</text>
<text x="241.54" y="314.40" font-size="5.96" fill="#111" textLength="36.35" lengthAdjust="spacingAndGlyphs">Number at risk</text>
<text x="227.81" y="323.20" font-size="5.96" fill="#111" textLength="50.46" lengthAdjust="spacingAndGlyphs">Control arm/No sign</text>
<text x="285.80" y="323.20" font-size="5.90" fill="#111" text-anchor="middle">24</text>
<text x="305.95" y="323.20" font-size="5.90" fill="#111" text-anchor="middle">19</text>
<text x="326.10" y="323.20" font-size="5.90" fill="#111" text-anchor="middle">14</text>
<text x="346.25" y="323.20" font-size="5.90" fill="#111" text-anchor="middle">7</text>
<text x="366.40" y="323.20" font-size="5.90" fill="#111" text-anchor="middle">3</text>
<text x="386.55" y="323.20" font-size="5.90" fill="#111" text-anchor="middle">0</text>
<text x="231.91" y="331.90" font-size="5.96" fill="#111" textLength="46.27" lengthAdjust="spacingAndGlyphs">Control arm/Sign+</text>
<text x="285.80" y="331.90" font-size="5.90" fill="#111" text-anchor="middle">42</text>
<text x="305.95" y="331.90" font-size="5.90" fill="#111" text-anchor="middle">24</text>
<text x="326.10" y="331.90" font-size="5.90" fill="#111" text-anchor="middle">17</text>
<text x="346.25" y="331.90" font-size="5.90" fill="#111" text-anchor="middle">12</text>
<text x="366.40" y="331.90" font-size="5.90" fill="#111" text-anchor="middle">5</text>
<text x="386.55" y="331.90" font-size="5.90" fill="#111" text-anchor="middle">1</text>
<text x="238.41" y="340.60" font-size="5.96" fill="#111" textLength="39.86" lengthAdjust="spacingAndGlyphs">Go arm/No sign</text>
<text x="285.80" y="340.60" font-size="5.90" fill="#111" text-anchor="middle">32</text>
<text x="305.95" y="340.60" font-size="5.90" fill="#111" text-anchor="middle">26</text>
<text x="326.10" y="340.60" font-size="5.90" fill="#111" text-anchor="middle">20</text>
<text x="346.25" y="340.60" font-size="5.90" fill="#111" text-anchor="middle">19</text>
<text x="366.40" y="340.60" font-size="5.90" fill="#111" text-anchor="middle">10</text>
<text x="386.55" y="340.60" font-size="5.90" fill="#111" text-anchor="middle">0</text>
<text x="242.81" y="349.40" font-size="5.96" fill="#111" textLength="35.37" lengthAdjust="spacingAndGlyphs">Go arm/Sign+</text>
<text x="285.80" y="349.40" font-size="5.90" fill="#111" text-anchor="middle">42</text>
<text x="305.95" y="349.40" font-size="5.90" fill="#111" text-anchor="middle">36</text>
<text x="326.10" y="349.40" font-size="5.90" fill="#111" text-anchor="middle">28</text>
<text x="346.25" y="349.40" font-size="5.90" fill="#111" text-anchor="middle">18</text>
<text x="366.40" y="349.40" font-size="5.90" fill="#111" text-anchor="middle">11</text>
<text x="386.55" y="349.40" font-size="5.90" fill="#111" text-anchor="middle">4</text>
<line x1="348.20" y1="207.70" x2="356.00" y2="207.70" stroke="#c0223f" stroke-width="1.1"/>
<line x1="348.20" y1="213.50" x2="356.00" y2="213.50" stroke="#4a68a6" stroke-width="1.1"/>
<line x1="348.20" y1="219.50" x2="356.00" y2="219.50" stroke="#c0223f" stroke-width="1.1" stroke-dasharray="3.6,2.2"/>
<line x1="348.20" y1="225.30" x2="356.00" y2="225.30" stroke="#4a68a6" stroke-width="1.1" stroke-dasharray="3.6,2.2"/>
<text x="358.32" y="209.60" font-size="5.67" fill="#111" textLength="41.25" lengthAdjust="spacingAndGlyphs">Go arm/ No sign</text>
<text x="358.32" y="215.40" font-size="5.67" fill="#111" textLength="51.45" lengthAdjust="spacingAndGlyphs">Control arm/ No sign</text>
<text x="358.33" y="221.40" font-size="5.67" fill="#111" textLength="35.24" lengthAdjust="spacingAndGlyphs">Go arm/ Sign+</text>
<text x="358.32" y="227.20" font-size="5.67" fill="#111" textLength="46.56" lengthAdjust="spacingAndGlyphs">Control arm/ Sign+</text>
<path d="M411.20,205.30 Q412.70,205.30 412.70,206.60 L412.70,209.60 Q412.70,210.50 413.90,210.50 Q412.70,210.50 412.70,211.40 L412.70,214.40 Q412.70,215.70 411.20,215.70" fill="none" stroke="#111" stroke-width="1.05"/>
<path d="M411.20,217.10 Q412.70,217.10 412.70,218.40 L412.70,221.35 Q412.70,222.25 413.90,222.25 Q412.70,222.25 412.70,223.15 L412.70,226.10 Q412.70,227.40 411.20,227.40" fill="none" stroke="#111" stroke-width="1.05"/>
<text x="416.44" y="212.90" font-size="5.52" fill="#111" textLength="17.43" lengthAdjust="spacingAndGlyphs">p=0.79</text>
<text x="416.44" y="224.30" font-size="5.52" fill="#111" textLength="17.44" lengthAdjust="spacingAndGlyphs">p=0.01</text>
<path d="M286.60,207.50 L293.00,207.50 L293.70,208.50 L294.60,210.50 L296.00,211.50 L298.20,214.50 L300.30,216.50 L302.30,218.50 L304.50,220.50 L305.80,221.50 L307.90,223.50 L310.00,225.50 L313.40,225.50 L313.80,225.50 L315.10,226.50 L316.30,227.50 L318.40,229.50 L320.50,229.50 L320.90,229.50 L321.80,230.50 L322.60,232.50 L323.40,233.50 L324.30,235.50 L324.70,237.50 L386.50,237.50" fill="none" stroke="#4a68a6" stroke-width="1.15" stroke-linejoin="miter"/>
<path d="M286.60,207.50 L287.00,212.50 L287.40,216.50 L291.90,216.50 L292.60,217.50 L293.30,218.50 L294.00,219.50 L301.00,219.50 L301.60,221.50 L302.50,221.50 L304.40,223.50 L306.50,223.50 L308.60,224.50 L310.00,225.50 L311.50,227.50 L313.50,229.50 L319.80,229.50 L320.50,231.50 L321.50,232.50 L322.60,233.50 L324.00,234.50 L350.70,234.50 L351.50,235.50 L352.50,238.50 L353.20,241.50 L363.00,241.50 L363.50,244.50 L385.60,244.50" fill="none" stroke="#c0223f" stroke-width="1.15" stroke-linejoin="miter"/>
<path d="M286.60,207.50 L288.00,209.50 L289.50,210.50 L291.50,212.50 L293.50,214.50 L295.50,216.50 L296.70,219.50 L297.50,223.50 L298.30,225.50 L299.20,228.50 L300.00,230.50 L301.00,233.50 L302.50,234.50 L305.00,237.50 L307.50,239.50 L309.20,240.50 L311.70,242.50 L314.20,244.50 L316.50,244.50 L319.90,246.50 L323.30,249.50 L326.80,250.50 L329.40,253.50 L332.00,256.50 L352.10,256.50 L354.20,258.50 L388.40,258.50" fill="none" stroke="#4a68a6" stroke-width="1.3" stroke-linejoin="miter" stroke-dasharray="2.6,1.8"/>
<path d="M286.60,207.50 L287.90,209.50 L289.50,210.50 L291.20,211.50 L292.50,213.50 L295.80,215.50 L297.10,216.50 L301.30,216.50 L303.50,217.50 L305.30,217.50 L307.30,219.50 L308.80,220.50 L310.90,221.50 L314.20,223.50 L315.90,223.50 L317.60,225.50 L318.40,226.50 L320.10,228.50 L321.80,228.50 L324.30,229.50 L326.80,230.50 L330.10,231.50 L331.80,233.50 L333.50,233.50 L338.20,236.50 L341.50,237.50 L342.50,239.50 L348.00,239.50 L354.00,239.50 L356.00,240.50 L362.00,241.50 L364.00,242.50 L390.50,242.50" fill="none" stroke="#c0223f" stroke-width="1.25" stroke-linejoin="miter" stroke-dasharray="2.6,1.8"/>
<rect x="0.6" y="0.6" width="518.8" height="356.8" fill="none" stroke="#000" stroke-width="1.3"/>
</svg>
</body></html>
